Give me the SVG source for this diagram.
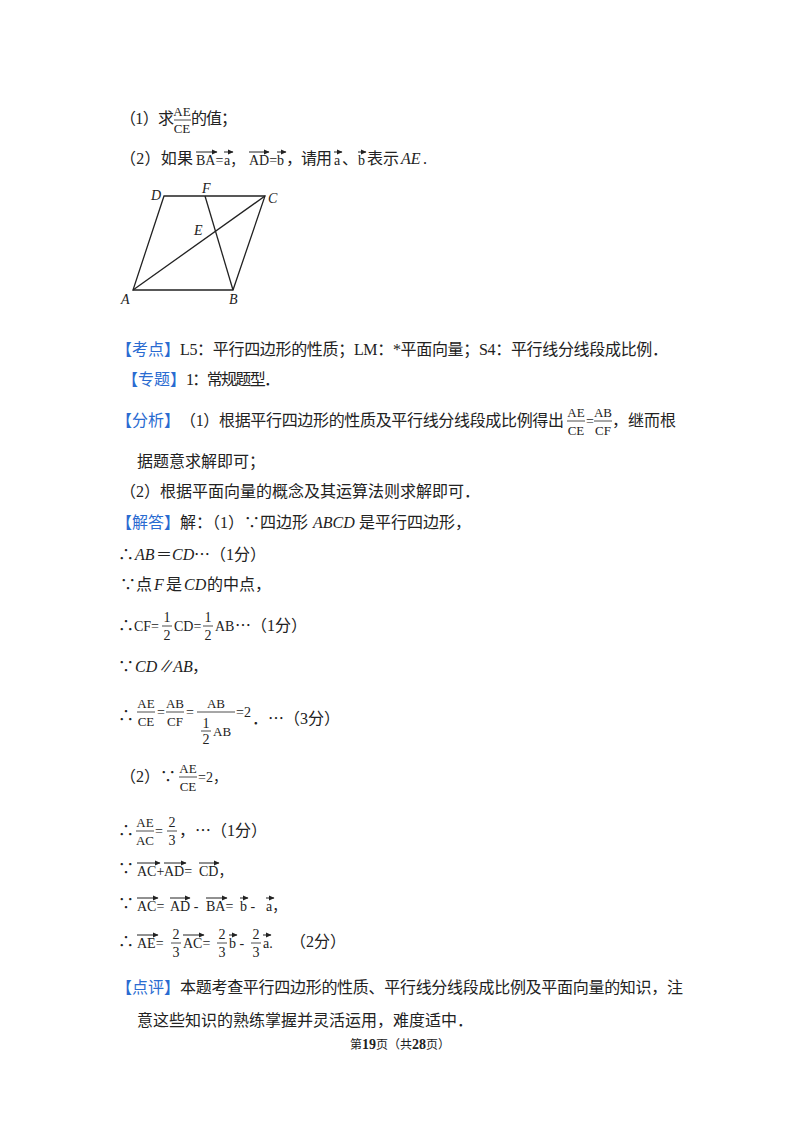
<svg xmlns="http://www.w3.org/2000/svg" width="800" height="1132" viewBox="0 0 800 1132">
<defs>
<marker id="ah" markerWidth="6" markerHeight="6" refX="5" refY="3" orient="auto" markerUnits="userSpaceOnUse"><path d="M0,0.5 L5.5,3 L0,5.5 Z" fill="#222"/></marker>
<style>
text{font-family:"Liberation Serif","Noto Sans CJK SC",serif;font-size:16px;fill:#222}
.m{font-size:14px}
.s{font-size:13px}
.i{font-style:italic}
.b{fill:#2a6bd1}
.v{stroke:#222;stroke-width:1;marker-end:url(#ah)}
.fl{stroke:#222;stroke-width:0.8}
.g{stroke:#222;stroke-width:1.3;fill:none}
</style>
</defs>
<rect width="800" height="1132" fill="#fff"/>

<text x="120" y="124" textLength="54">（1）求</text>
<text class="s" x="182" y="116" text-anchor="middle">AE</text><line class="fl" x1="174" y1="120" x2="191" y2="120"/><text class="s" x="182" y="133" text-anchor="middle">CE</text>
<text x="191" y="124" textLength="46">的值；</text>

<text x="120" y="164" textLength="73">（2）如果</text>
<line class="v" x1="196" y1="152" x2="217" y2="152"/><text class="m" x="196" y="165">BA=</text>
<line class="v" x1="224" y1="152" x2="233" y2="152"/><text class="m" x="224" y="165">a，</text>
<line class="v" x1="249" y1="152" x2="269" y2="152"/><text class="m" x="249" y="165">AD=</text>
<line class="v" x1="277" y1="152" x2="286" y2="152"/><text class="m" x="277" y="165">b</text>
<text x="286" y="164" textLength="46">，请用</text>
<line class="v" x1="334" y1="152" x2="342" y2="152"/><text class="m" x="334" y="165">a</text><text x="342" y="164">、</text>
<line class="v" x1="358" y1="152" x2="366" y2="152"/><text class="m" x="358" y="165">b</text>
<text x="367" y="164" textLength="32">表示</text><text class="i" x="401" y="164">AE</text><text x="423" y="164">.</text>

<g id="figure">
<path class="g" d="M164,196 L265,196 L233,290 L133,290 Z"/>
<line class="g" x1="133" y1="290" x2="265" y2="196"/>
<line class="g" x1="205" y1="196" x2="233" y2="290"/>
<text class="i m" x="151" y="200">D</text>
<text class="i m" x="202" y="193">F</text>
<text class="i m" x="268" y="203">C</text>
<text class="i m" x="194" y="235">E</text>
<text class="i m" x="121" y="304">A</text>
<text class="i m" x="229" y="304">B</text>
</g>

<text class="b" x="116" y="355" textLength="64">【考点】</text>
<text x="180" y="355" textLength="488">L5：平行四边形的性质；LM：*平面向量；S4：平行线分线段成比例．</text>
<text class="b" x="122" y="385" textLength="64">【专题】</text>
<text x="186" y="385" textLength="94">1：常规题型．</text>

<text class="b" x="116" y="426" textLength="64">【分析】</text>
<text x="180" y="426" textLength="384">（1）根据平行四边形的性质及平行线分线段成比例得出</text>
<text class="s" x="576" y="417" text-anchor="middle">AE</text><line class="fl" x1="567" y1="421" x2="585" y2="421"/><text class="s" x="576" y="435" text-anchor="middle">CE</text>
<text class="m" x="586" y="426">=</text>
<text class="s" x="603" y="417" text-anchor="middle">AB</text><line class="fl" x1="594" y1="421" x2="612" y2="421"/><text class="s" x="603" y="435" text-anchor="middle">CF</text>
<text x="612" y="426">，继而根</text>
<text x="137" y="467">据题意求解即可；</text>
<text x="120" y="497">（2）根据平面向量的概念及其运算法则求解即可．</text>

<text class="b" x="116" y="528" textLength="64">【解答】</text>
<text x="180" y="528">解：（1）∵四边形</text><text class="i" x="313" y="528">ABCD</text><text x="359" y="528">是平行四边形，</text>

<text x="118" y="560">∴</text><text class="i" x="135" y="560">AB</text><text x="156" y="560">＝</text><text class="i" x="172" y="560">CD</text><text x="194" y="560">⋯（1分）</text>
<text x="120" y="590">∵点</text><text class="i" x="154" y="590">F</text><text x="166" y="590">是</text><text class="i" x="184" y="590">CD</text><text x="207" y="590">的中点，</text>

<text x="118" y="631">∴</text><text class="m" x="134" y="631">CF=</text>
<text class="m" x="167" y="622" text-anchor="middle">1</text><line class="fl" x1="162" y1="626" x2="172" y2="626"/><text class="m" x="167" y="640" text-anchor="middle">2</text>
<text class="m" x="174" y="631">CD=</text>
<text class="m" x="208" y="622" text-anchor="middle">1</text><line class="fl" x1="203" y1="626" x2="213" y2="626"/><text class="m" x="208" y="640" text-anchor="middle">2</text>
<text class="m" x="215" y="631">AB</text><text x="235" y="631">⋯（1分）</text>

<text x="118" y="672">∵</text><text class="i" x="135" y="672">CD∥AB</text><text x="192" y="672">，</text>

<text x="118" y="721">∴</text>
<text class="s" x="146" y="708" text-anchor="middle">AE</text><line class="fl" x1="137" y1="712" x2="155" y2="712"/><text class="s" x="146" y="726" text-anchor="middle">CE</text>
<text class="m" x="157" y="717">=</text>
<text class="s" x="175" y="708" text-anchor="middle">AB</text><line class="fl" x1="166" y1="712" x2="184" y2="712"/><text class="s" x="175" y="726" text-anchor="middle">CF</text>
<text class="m" x="186" y="717">=</text>
<text class="s" x="216" y="708" text-anchor="middle">AB</text><line class="fl" x1="197" y1="712" x2="235" y2="712"/>
<text class="m" x="206" y="728" text-anchor="middle">1</text><line class="fl" x1="201" y1="731" x2="211" y2="731"/><text class="m" x="206" y="744" text-anchor="middle">2</text><text class="s" x="213" y="736">AB</text>
<text class="m" x="236" y="717">=2</text><text x="252" y="724">．⋯（3分）</text>

<text x="120" y="782">（2）∵</text>
<text class="s" x="188" y="773" text-anchor="middle">AE</text><line class="fl" x1="179" y1="777" x2="197" y2="777"/><text class="s" x="188" y="791" text-anchor="middle">CE</text>
<text class="m" x="198" y="782">=2，</text>

<text x="118" y="836">∴</text>
<text class="s" x="145" y="827" text-anchor="middle">AE</text><line class="fl" x1="136" y1="831" x2="154" y2="831"/><text class="s" x="145" y="845" text-anchor="middle">AC</text>
<text class="m" x="155" y="836">=</text>
<text class="m" x="172" y="827" text-anchor="middle">2</text><line class="fl" x1="167" y1="831" x2="177" y2="831"/><text class="m" x="172" y="845" text-anchor="middle">3</text>
<text x="179" y="836">，⋯（1分）</text>

<text x="118" y="874">∵</text>
<line class="v" x1="137" y1="863" x2="160" y2="863"/><text class="m" x="137" y="876">AC+</text>
<line class="v" x1="164" y1="863" x2="186" y2="863"/><text class="m" x="164" y="876">AD=</text>
<line class="v" x1="199" y1="863" x2="219" y2="863"/><text class="m" x="199" y="876">CD，</text>

<text x="118" y="909">∵</text>
<line class="v" x1="137" y1="898" x2="158" y2="898"/><text class="m" x="137" y="911">AC=</text>
<line class="v" x1="170" y1="898" x2="190" y2="898"/><text class="m" x="170" y="911">AD -</text>
<line class="v" x1="206" y1="898" x2="227" y2="898"/><text class="m" x="206" y="911">BA=</text>
<line class="v" x1="240" y1="898" x2="248" y2="898"/><text class="m" x="240" y="911">b -</text>
<line class="v" x1="266" y1="898" x2="274" y2="898"/><text class="m" x="266" y="911">a，</text>

<text x="118" y="947">∴</text>
<line class="v" x1="137" y1="935" x2="158" y2="935"/><text class="m" x="137" y="948">AE=</text>
<text class="m" x="176" y="939" text-anchor="middle">2</text><line class="fl" x1="171" y1="943" x2="181" y2="943"/><text class="m" x="176" y="957" text-anchor="middle">3</text>
<line class="v" x1="183" y1="935" x2="204" y2="935"/><text class="m" x="183" y="948">AC=</text>
<text class="m" x="222" y="939" text-anchor="middle">2</text><line class="fl" x1="217" y1="943" x2="227" y2="943"/><text class="m" x="222" y="957" text-anchor="middle">3</text>
<line class="v" x1="229" y1="935" x2="237" y2="935"/><text class="m" x="229" y="948">b -</text>
<text class="m" x="256" y="939" text-anchor="middle">2</text><line class="fl" x1="251" y1="943" x2="261" y2="943"/><text class="m" x="256" y="957" text-anchor="middle">3</text>
<line class="v" x1="263" y1="935" x2="271" y2="935"/><text class="m" x="263" y="948">a.</text>
<text x="290" y="947">（2分）</text>

<text class="b" x="116" y="993" textLength="64">【点评】</text>
<text x="180" y="993" textLength="503">本题考查平行四边形的性质、平行线分线段成比例及平面向量的知识，注</text>
<text x="137" y="1026">意这些知识的熟练掌握并灵活运用，难度适中．</text>

<text x="400" y="1049" text-anchor="middle" style="font-size:12px">第<tspan font-weight="bold" font-size="14">19</tspan>页（共<tspan font-weight="bold" font-size="14">28</tspan>页）</text>
</svg>
